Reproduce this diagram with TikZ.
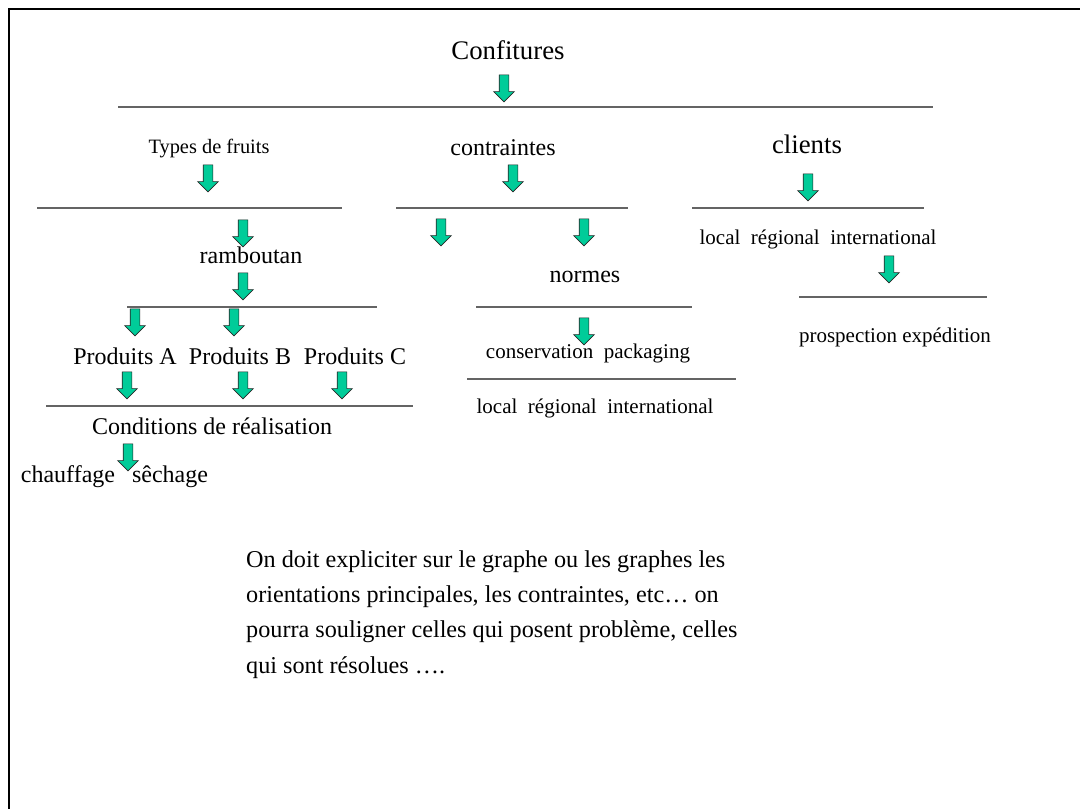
\documentclass[tikz,border=0pt]{standalone}
\usepackage{fontspec}
\setmainfont{Liberation Serif}
\usepackage{tikz}
\usetikzlibrary{shapes.arrows}
\definecolor{cfgreen}{RGB}{0,204,153}
\definecolor{cfrule}{RGB}{100,100,100}
\newcommand{\cfhuge}{\fontsize{26.8}{32}\selectfont}
\newcommand{\cflarge}{\fontsize{24}{29}\selectfont}
\newcommand{\cfnormal}{\fontsize{21}{25}\selectfont}
\newcommand{\cfsmall}{\fontsize{20.4}{24}\selectfont}
\tikzstyle{txt} = [anchor=base, inner sep=0pt]
\tikzstyle{rule} = [draw=cfrule, line width=1.3pt]
\tikzstyle{downarrow} = [single arrow, rotate=-90, draw=black!85, fill=cfgreen, line width=0.6pt, minimum height=27pt, minimum width=20pt, inner sep=4.5pt, single arrow head extend=5.5pt]

\begin{document}
\begin{tikzpicture}[x=1pt, y=-1pt]
    \useasboundingbox (0,0) rectangle (1080,809);
    % Frame
    \draw[line width=2.8pt] (9,809) -- (9,9) -- (1080,9);

    % Confitures
    \node[txt, font=\cfhuge] (confitures) at (508,59) {Confitures};
    \node[downarrow] (a0) at (504,86) {};
    \draw[rule] (118,107) -- (933,107);

    % Types de fruits
    \node[txt, font=\cfsmall] (fruits) at (209,153) {Types de fruits};
    \node[downarrow] (a1) at (208,176) {};
    \draw[rule] (37,208) -- (342,208);
    \node[downarrow] (a2) at (243,231) {};
    \node[txt, font=\cflarge] (ramboutan) at (251,263) {ramboutan};
    \node[downarrow] (a3) at (243,284) {};
    \draw[rule] (127,307) -- (377,307);
    \node[downarrow] (a4) at (135,320) {};
    \node[downarrow] (a5) at (234,320) {};
    \node[txt, font=\cflarge] (prodA) at (125,364) {Produits A};
    \node[txt, font=\cflarge] (prodB) at (240,364) {Produits B};
    \node[txt, font=\cflarge] (prodC) at (355,364) {Produits C};
    \node[downarrow] (a6) at (127,383) {};
    \node[downarrow] (a7) at (243,383) {};
    \node[downarrow] (a8) at (342,383) {};
    \draw[rule] (46,406) -- (413,406);
    \node[txt, font=\cflarge] (conditions) at (212,434) {Conditions de réalisation};
    \node[downarrow] (a9) at (128,455) {};
    \node[txt, font=\cflarge] (chauffage) at (68,482) {chauffage};
    \node[txt, font=\cflarge] (sechage) at (170,482) {sêchage};

    % Contraintes
    \node[txt, font=\cflarge] (contraintes) at (503,155) {contraintes};
    \node[downarrow] (b0) at (513,176) {};
    \draw[rule] (396,208) -- (628,208);
    \node[downarrow] (b1) at (441,230) {};
    \node[downarrow] (b2) at (584,230) {};
    \node[txt, font=\cflarge] (normes) at (585,282) {normes};
    \draw[rule] (476,307) -- (692,307);
    \node[downarrow] (b3) at (584,329) {};
    \node[txt, font=\cfnormal] (conservation) at (588,358) {conservation\ \ packaging};
    \draw[rule] (467,379) -- (736,379);
    \node[txt, font=\cfnormal] (marcheA) at (595,413) {local\ \ régional\ \ international};

    % Clients
    \node[txt, font=\cfhuge] (clients) at (807,153) {clients};
    \node[downarrow] (c0) at (808,185) {};
    \draw[rule] (692,208) -- (924,208);
    \node[txt, font=\cfnormal] (marcheB) at (818,244) {local\ \ régional\ \ international};
    \node[downarrow] (c1) at (889,267) {};
    \draw[rule] (799,297) -- (987,297);
    \node[txt, font=\cfnormal] (prospection) at (895,342) {prospection expédition};

    % Commentaire
    \node[anchor=base west, inner sep=0pt, align=left, font=\fontsize{24.2}{35.3}\selectfont] (note) at (246,673)
        {On doit expliciter sur le graphe ou les graphes les\\
         orientations principales, les contraintes, etc… on\\
         pourra souligner celles qui posent problème, celles\\
         qui sont résolues ….};
\end{tikzpicture}
\end{document}
